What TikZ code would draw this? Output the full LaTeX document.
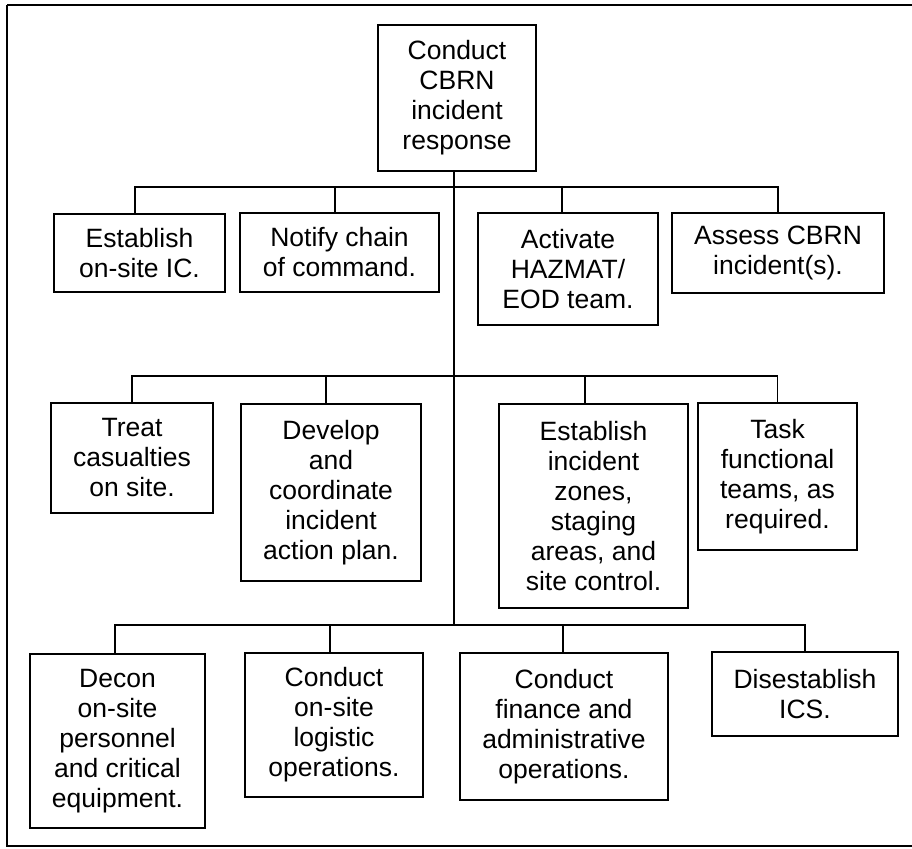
\documentclass[tikz,border=0pt]{standalone}
\usepackage{fontspec}
\setmainfont{Liberation Sans}
\begin{document}
\begin{tikzpicture}[x=1pt,y=-1pt,
  line width=1.3pt,
  taskbox/.style={draw, rectangle, align=center, inner sep=0pt,
    font=\fontsize{26.5}{30}\selectfont},
  link/.style={line width=1.3pt}]
\useasboundingbox (0,0) rectangle (912,848);
% outer frame (runs past the right edge of the page)
\draw[line width=1.5pt] (7,5) -- (920,5);
\draw[line width=1.5pt] (7,5) -- (7,846) -- (920,846);

% root
\node[taskbox, minimum width=158, minimum height=146] (root) at (457,98)
  {Conduct\\CBRN\\incident\\response};

% first tier
\node[taskbox, minimum width=171, minimum height=78] (a1) at (139.5,253)
  {Establish\\on-site IC.};
\node[taskbox, minimum width=199, minimum height=79] (a2) at (339.5,252.5)
  {Notify chain\\of command.};
\node[taskbox, minimum width=180, minimum height=112] (a3) at (568,269)
  {Activate\\HAZMAT/\\EOD team.};
\node[taskbox, minimum width=212, minimum height=80] (a4) at (778,253)
  {Assess CBRN\\incident(s).};

% second tier
\node[taskbox, minimum width=162, minimum height=110] (b1) at (132,458)
  {Treat\\casualties\\on site.};
\node[taskbox, minimum width=180, minimum height=177] (b2) at (331,492.5)
  {Develop\\and\\coordinate\\incident\\action plan.};
\node[taskbox, minimum width=189, minimum height=204] (b3) at (593.5,506)
  {Establish\\incident\\zones,\\staging\\areas, and\\site control.};
\node[taskbox, minimum width=159, minimum height=147] (b4) at (777.5,476.5)
  {Task\\functional\\teams, as\\required.};

% third tier
\node[taskbox, minimum width=175, minimum height=174] (c1) at (117.5,741)
  {Decon\\on-site\\personnel\\and critical\\equipment.};
\node[taskbox, minimum width=178, minimum height=144] (c2) at (334,725)
  {Conduct\\on-site\\logistic\\operations.};
\node[taskbox, minimum width=208, minimum height=147] (c3) at (564,726.5)
  {Conduct\\finance and\\administrative\\operations.};
\node[taskbox, minimum width=186, minimum height=84] (c4) at (805,694)
  {Disestablish\\ICS.};

% bus levels and trunk
\coordinate (trunk) at (454,171);
\coordinate (bus1) at (454,187);
\coordinate (bus2) at (454,376);
\coordinate (bus3) at (454,625);

% drop points on the top edges
\coordinate (a1t) at ([xshift=-4.5pt]a1.north);
\coordinate (a2t) at ([xshift=-4.5pt]a2.north);
\coordinate (a3t) at ([xshift=-6pt]a3.north);
\coordinate (a4t) at (a4.north);
\coordinate (b1t) at (b1.north);
\coordinate (b2t) at ([xshift=-5pt]b2.north);
\coordinate (b3t) at ([xshift=-8.5pt]b3.north);
\coordinate (b4t) at (b4.north);
\coordinate (c1t) at ([xshift=-2.5pt]c1.north);
\coordinate (c2t) at ([xshift=-4pt]c2.north);
\coordinate (c3t) at ([xshift=-1pt]c3.north);
\coordinate (c4t) at (c4.north);

\draw[link] (trunk) -- (bus3);

\draw[link] (a1t) -- (a1t |- bus1) -- (a4t |- bus1) -- (a4t);
\draw[link] (a2t) -- (a2t |- bus1);
\draw[link] (a3t) -- (a3t |- bus1);

\draw[link] (b1t) -- (b1t |- bus2) -- (b4t |- bus2) -- (b4t);
\draw[link] (b2t) -- (b2t |- bus2);
\draw[link] (b3t) -- (b3t |- bus2);

\draw[link] (c1t) -- (c1t |- bus3) -- (c4t |- bus3) -- (c4t);
\draw[link] (c2t) -- (c2t |- bus3);
\draw[link] (c3t) -- (c3t |- bus3);
\end{tikzpicture}
\end{document}
